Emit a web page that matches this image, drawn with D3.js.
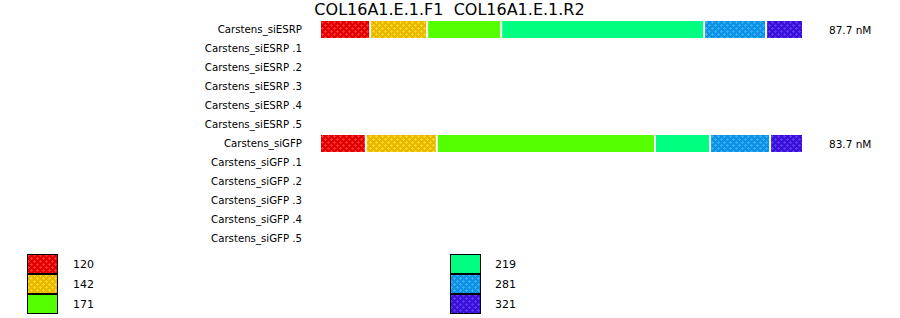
<!DOCTYPE html>
<html>
<head>
<meta charset="utf-8">
<script src="https://cdn.jsdelivr.net/npm/d3@7"></script>
<style>
  body { margin: 0; background: #fff; }
  text { font-family: "DejaVu Sans", Verdana, sans-serif; fill: #000; }
</style>
</head>
<body>
<svg width="900" height="318"></svg>
<script>
var title = "COL16A1.E.1.F1  COL16A1.E.1.R2";

var rows = ["Carstens_siESRP", "Carstens_siESRP .1", "Carstens_siESRP .2",
            "Carstens_siESRP .3", "Carstens_siESRP .4", "Carstens_siESRP .5",
            "Carstens_siGFP", "Carstens_siGFP .1", "Carstens_siGFP .2",
            "Carstens_siGFP .3", "Carstens_siGFP .4", "Carstens_siGFP .5"];

// product sizes (bp) = legend entries
var sizes = [120, 142, 171, 219, 281, 321];

// concentration per product (nM)
var concESRP = [9.1, 10.35, 13.45, 36.85, 11.25, 6.7];
var concGFP  = [7.95, 12.3, 37.8, 9.55, 10.4, 5.7];

var baseColors = ["#e00000", "#e8b800", "#55ff00", "#00ff80", "#1090e0", "#3a10d8"];
var dotColors  = ["#ff3030", "#ffd820", null, null, "#30b0ff", "#5a38f4"];

var svg = d3.select("svg");

// patterns
var defs = svg.append("defs");
sizes.forEach(function(s, i) {
    if (!dotColors[i]) return;
    var p = defs.append("pattern")
        .attr("id", "pat" + i)
        .attr("patternUnits", "userSpaceOnUse")
        .attr("width", 6).attr("height", 6);
    p.append("rect").attr("width", 6).attr("height", 6).attr("fill", baseColors[i]);
    [[0, 0], [3, 3]].forEach(function(c) {
        p.append("rect").attr("x", c[0] + 1).attr("y", c[1]).attr("width", 1).attr("height", 3).attr("fill", dotColors[i]);
        p.append("rect").attr("x", c[0]).attr("y", c[1] + 1).attr("width", 3).attr("height", 1).attr("fill", dotColors[i]);
    });
});
function fillOf(i) { return dotColors[i] ? "url(#pat" + i + ")" : baseColors[i]; }

var data = [
    {row: "Carstens_siESRP", values: concESRP},
    {row: "Carstens_siGFP", values: concGFP}
];

var y = d3.scalePoint().domain(rows).range([29.5, 238.5]);
var x = d3.scaleLinear().domain([0, 1]).range([321, 804]);
var barH = 17;

svg.append("text")
    .attr("x", 449.5).attr("y", 15)
    .attr("text-anchor", "middle")
    .style("font-size", "16px")
    .style("white-space", "pre")
    .text(title);

svg.append("g").selectAll("text")
    .data(rows)
    .enter().append("text")
    .attr("x", 302)
    .attr("y", function(d) { return y(d) + 3.5; })
    .attr("text-anchor", "end")
    .style("font-size", "10.2px")
    .text(function(d) { return d; });

data.forEach(function(r) {
    var total = d3.sum(r.values);
    var cum = 0;
    var segs = r.values.map(function(v, i) {
        var s = {i: i, x0: cum / total, x1: (cum + v) / total};
        cum += v;
        return s;
    });
    var g = svg.append("g");
    g.selectAll("rect")
        .data(segs)
        .enter().append("rect")
        .attr("x", function(d) { return x(d.x0); })
        .attr("y", y(r.row) - barH / 2)
        .attr("width", function(d) { return x(d.x1) - x(d.x0) - 2; })
        .attr("height", barH)
        .attr("fill", function(d) { return fillOf(d.i); });
    g.append("text")
        .attr("x", 829)
        .attr("y", y(r.row) + 4)
        .style("font-size", "10.5px")
        .text(total.toFixed(1) + " nM");
});

// legend
var leg = svg.append("g").selectAll("g")
    .data(sizes)
    .enter().append("g")
    .attr("transform", function(d, i) {
        return "translate(" + (i < 3 ? 27 : 450) + "," + (254 + (i % 3) * 20) + ")";
    });
leg.append("rect")
    .attr("x", 0.5).attr("y", 0.5)
    .attr("width", 30).attr("height", 19)
    .attr("fill", function(d, i) { return fillOf(i); })
    .attr("stroke", "#000");
leg.append("text")
    .attr("x", function(d, i) { return i < 3 ? 46 : 45; })
    .attr("y", 14)
    .style("font-size", "11px")
    .text(function(d) { return d; });
</script>
</body>
</html>
